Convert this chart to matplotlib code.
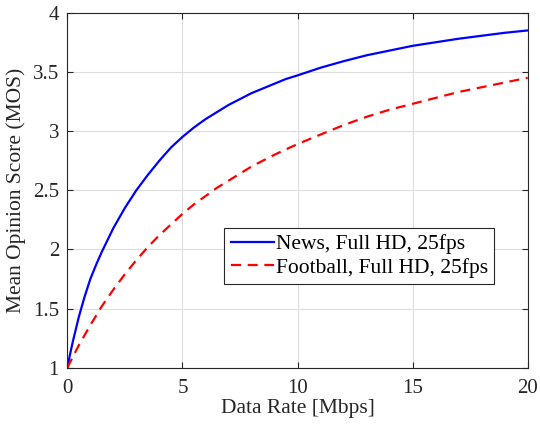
import matplotlib
matplotlib.use('Agg')
import matplotlib.pyplot as plt

plt.rcParams['font.family'] = ['Liberation Serif', 'DejaVu Serif']

# values
rate_news = [0, 0.125, 0.25, 0.5, 0.75, 1, 1.25, 1.5, 1.75, 2, 2.5, 3, 3.5, 4,
             4.5, 5, 5.5, 6, 6.5, 7, 7.5, 8, 8.5, 9, 9.5, 10,
             11, 12, 13, 14, 15, 16, 17, 18, 19, 20]
mos_news = [1.0, 1.12, 1.23, 1.43, 1.60, 1.75, 1.87, 1.98, 2.08, 2.18, 2.35,
            2.50, 2.63, 2.75, 2.86, 2.95, 3.03, 3.10, 3.16, 3.22, 3.27, 3.32,
            3.36, 3.40, 3.44, 3.47, 3.535, 3.59, 3.64, 3.68, 3.72, 3.75,
            3.78, 3.805, 3.83, 3.85]

rate_football = [0, 0.5, 1, 1.5, 2, 2.5, 3, 3.5, 4, 4.5, 5, 5.5, 6, 6.5, 7,
                 7.5, 8, 9, 10, 11, 12, 13, 14, 15, 16, 17, 18, 19, 20]
mos_football = [1.0, 1.19, 1.36, 1.52, 1.66, 1.79, 1.91, 2.02, 2.12, 2.21,
                2.30, 2.38, 2.45, 2.52, 2.58, 2.64, 2.70, 2.80, 2.89, 2.97,
                3.05, 3.12, 3.18, 3.23, 3.28, 3.33, 3.37, 3.41, 3.45]

x_ticks = [0, 5, 10, 15, 20]
y_ticks = [1, 1.5, 2, 2.5, 3, 3.5, 4]

fig = plt.figure(figsize=(5.4, 4.3), dpi=100)
ax = fig.add_axes([0.1247, 0.1449, 0.8526, 0.8256])

ax.plot(rate_news, mos_news, color='#0000ff', linewidth=1.6,
        label='News, Full HD, 25fps')
ax.plot(rate_football, mos_football, color='#ff0000', linewidth=1.6,
        linestyle=(0, (4.5, 3)), label='Football, Full HD, 25fps')

ax.set_xlim(0, 20)
ax.set_ylim(1, 4)
ax.set_xticks(x_ticks)
ax.set_yticks(y_ticks)
ax.set_yticklabels(['1', '1.5', '2', '2.5', '3', '3.5', '4'])

ax.grid(True, color='#dedede', linewidth=0.8)
ax.set_axisbelow(True)
for s in ax.spines.values():
    s.set_color('#262626')
    s.set_linewidth(0.8)
ax.tick_params(direction='in', top=True, right=True, length=4, width=0.8,
               color='#262626', labelsize=15, labelcolor='#262626')
ax.tick_params(axis='x', pad=8)
ax.tick_params(axis='y', pad=6)

ax.set_xlabel('Data Rate [Mbps]', fontsize=15.5, color='#262626', labelpad=1)
ax.set_ylabel('Mean Opinion Score (MOS)', fontsize=15.5, color='#262626', labelpad=5)

leg = ax.legend(loc='center', bbox_to_anchor=(0.634, 0.315), fontsize=15.5,
                fancybox=False, framealpha=1, edgecolor='#262626',
                handlelength=2.0, handletextpad=0.1, borderpad=0.3,
                labelspacing=0.15, borderaxespad=0)
leg.get_frame().set_linewidth(0.8)

fig.savefig('out.png', dpi=100)
